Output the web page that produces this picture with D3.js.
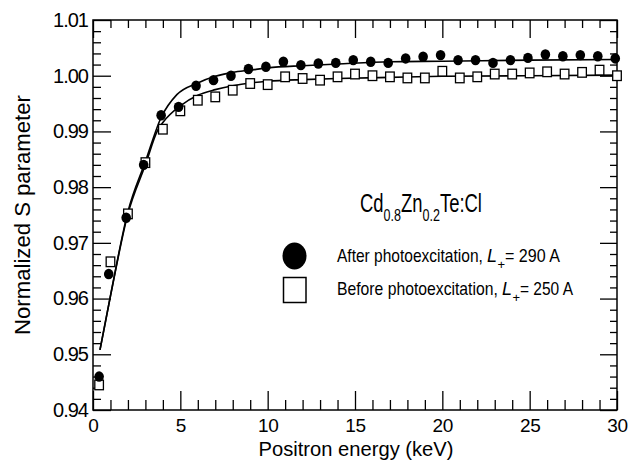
<!DOCTYPE html>
<html>
<head>
<meta charset="utf-8">
<script src="https://cdn.jsdelivr.net/npm/d3@7"></script>
<style>
  body { margin: 0; background: #fff; }
  text { font-family: "Liberation Sans", Arial, sans-serif; fill: #000; }
</style>
</head>
<body>
<svg id="chart" width="628" height="466"></svg>
<script>
// data
var energyAfter = [0.35, 0.9, 1.9, 2.9, 3.9, 4.9, 5.9, 6.9, 7.9, 8.9, 9.9, 10.9, 11.9, 12.9, 13.9, 14.9,
  15.9, 16.9, 17.9, 18.9, 19.9, 20.9, 21.9, 22.9, 23.9, 24.9, 25.9, 26.9, 27.9, 28.9, 29.9];
var sAfter = [0.9460, 0.9644, 0.9745, 0.9840, 0.9929, 0.9944, 0.9982, 0.9992, 1.0000, 1.0012, 1.0016,
  1.0025, 1.0019, 1.0022, 1.0023, 1.0028, 1.0025, 1.0023, 1.0031, 1.0034, 1.0037, 1.0028, 1.0028,
  1.0023, 1.0028, 1.0032, 1.0038, 1.0035, 1.0037, 1.0035, 1.0031];

var energyBefore = [0.35, 1, 2, 3, 4, 5, 6, 7, 8, 9, 10, 11, 12, 13, 14, 15, 16, 17, 18, 19, 20,
  21, 22, 23, 24, 25, 26, 27, 28, 29, 30];
var sBefore = [0.9445, 0.9666, 0.9752, 0.9844, 0.9904, 0.9937, 0.9956, 0.9962, 0.9974, 0.9986, 0.9984,
  0.9998, 0.9995, 0.9992, 0.9998, 1.0003, 1.0000, 0.9998, 0.9996, 0.9996, 1.0008, 0.9996, 0.9998,
  1.0003, 1.0003, 1.0005, 1.0007, 1.0003, 1.0006, 1.0010, 1.0000];

// fitted curves
var fitAfterE = [0.4, 1, 2, 3, 3.9, 4.8, 6, 7, 8, 9, 10, 12, 14, 17, 20, 25, 30];
var fitAfterS = [0.9508, 0.9605, 0.9756, 0.9846, 0.9925, 0.9966, 0.9987, 0.9999, 1.0006, 1.0010,
  1.0014, 1.0018, 1.0021, 1.0025, 1.0026, 1.0028, 1.0029];
var fitBeforeE = [0.4, 1, 2, 3, 3.7, 4, 5, 6, 7, 8, 9, 10, 12, 14, 17, 20, 25, 30];
var fitBeforeS = [0.9508, 0.9605, 0.9752, 0.9840, 0.9902, 0.9916, 0.9946, 0.9965, 0.9975, 0.9982,
  0.9987, 0.9990, 0.9993, 0.9995, 0.9997, 0.9999, 1.0000, 1.0001];

var xMajor = [0, 5, 10, 15, 20, 25, 30];
var yMajor = [0.94, 0.95, 0.96, 0.97, 0.98, 0.99, 1.00, 1.01];
var yLabels = ["0.94", "0.95", "0.96", "0.97", "0.98", "0.99", "1.00", "1.01"];

var legendNames = ["After photoexcitation,", "Before photoexcitation,"];
var legendValues = ["= 290 A", "= 250 A"];

var margin = {top: 20, right: 11, bottom: 56, left: 93};
var width = 628 - margin.left - margin.right;
var height = 466 - margin.top - margin.bottom;

var svg = d3.select("#chart");
var g = svg.append("g").attr("transform", "translate(" + margin.left + "," + margin.top + ")");

var x = d3.scaleLinear().domain([0, 30]).range([0, width]);
var y = d3.scaleLinear().domain([0.94, 1.01]).range([height, 0]);

var xMinor = d3.range(0, 31, 1).filter(function(d) { return d % 5 != 0; });
var yMinor = d3.range(0, 36).map(function(i) { return 0.94 + i * 0.002; })
  .filter(function(d, i) { return i % 5 != 0; });

function styleAxis(sel) {
  sel.select(".domain").remove();
  sel.selectAll("line").attr("stroke", "#000").attr("stroke-width", 1.3);
}

// the original typeface is narrow, so squeeze text horizontally to a target width
function squeeze(t, pre, target) {
  var w = t.node().getComputedTextLength();
  t.attr("transform", pre + " scale(" + (target / w) + ",1)");
  return t;
}

// bottom
g.append("g").attr("transform", "translate(0," + height + ")")
  .call(d3.axisBottom(x).tickValues(xMajor).tickSize(-19).tickPadding(9).tickFormat(d3.format("d")))
  .call(styleAxis)
  .selectAll("text").attr("font-size", 19).attr("letter-spacing", -0.3)
  .attr("font-family", "Liberation Sans, Arial, sans-serif");
g.append("g").attr("transform", "translate(0," + height + ")")
  .call(d3.axisBottom(x).tickValues(xMinor).tickSize(-10).tickFormat(""))
  .call(styleAxis);
// top
g.append("g")
  .call(d3.axisTop(x).tickValues(xMajor).tickSize(-18).tickFormat(""))
  .call(styleAxis);
g.append("g")
  .call(d3.axisTop(x).tickValues(xMinor).tickSize(-8).tickFormat(""))
  .call(styleAxis);
// left
g.append("g")
  .call(d3.axisLeft(y).tickValues(yMajor).tickSize(-18).tickPadding(5)
    .tickFormat(function(d, i) { return yLabels[i]; }))
  .call(styleAxis)
  .selectAll("text").attr("font-size", 20).attr("letter-spacing", -1)
  .attr("font-family", "Liberation Sans, Arial, sans-serif");
g.append("g")
  .call(d3.axisLeft(y).tickValues(yMinor).tickSize(-8).tickFormat(""))
  .call(styleAxis);
// right
g.append("g").attr("transform", "translate(" + width + ",0)")
  .call(d3.axisRight(y).tickValues(yMajor).tickSize(-17).tickFormat(""))
  .call(styleAxis);
g.append("g").attr("transform", "translate(" + width + ",0)")
  .call(d3.axisRight(y).tickValues(yMinor).tickSize(-7).tickFormat(""))
  .call(styleAxis);

// frame
g.append("rect").attr("width", width).attr("height", height)
  .attr("fill", "none").attr("stroke", "#000").attr("stroke-width", 1.5);

// fit lines
var line = d3.line().curve(d3.curveMonotoneX)
  .x(function(d) { return x(d[0]); })
  .y(function(d) { return y(d[1]); });

g.append("path").datum(d3.zip(fitAfterE, fitAfterS))
  .attr("d", line).attr("fill", "none").attr("stroke", "#000").attr("stroke-width", 1.6);
g.append("path").datum(d3.zip(fitBeforeE, fitBeforeS))
  .attr("d", line).attr("fill", "none").attr("stroke", "#000").attr("stroke-width", 1.6);

// points
g.selectAll(".sq").data(d3.zip(energyBefore, sBefore)).enter().append("rect")
  .attr("class", "sq")
  .attr("x", function(d) { return x(d[0]) - 4.3; })
  .attr("y", function(d) { return y(d[1]) - 4.8; })
  .attr("width", 8.6).attr("height", 9.6)
  .attr("fill", "#fff").attr("stroke", "#000").attr("stroke-width", 1.3);

g.selectAll(".dot").data(d3.zip(energyAfter, sAfter)).enter().append("ellipse")
  .attr("class", "dot")
  .attr("cx", function(d) { return x(d[0]); })
  .attr("cy", function(d) { return y(d[1]); })
  .attr("rx", 4.8).attr("ry", 5.2)
  .attr("fill", "#000");

// axis titles
squeeze(svg.append("text").attr("text-anchor", "middle").attr("font-size", 21)
  .text("Positron energy (keV)"), "translate(356,456)", 195);

squeeze(svg.append("text").attr("text-anchor", "middle").attr("font-size", 22)
  .text("Normalized S parameter"), "translate(30,215) rotate(-90)", 240);

// compound label
var comp = svg.append("text").attr("font-size", 25);
comp.append("tspan").text("Cd");
comp.append("tspan").attr("font-size", 17).attr("dy", 9).text("0.8");
comp.append("tspan").attr("dy", -9).text("Zn");
comp.append("tspan").attr("font-size", 17).attr("dy", 9).text("0.2");
comp.append("tspan").attr("dy", -9).text("Te:Cl");
squeeze(comp, "translate(360,212)", 122);

// legend
svg.append("ellipse").attr("cx", 294.5).attr("cy", 256).attr("rx", 12).attr("ry", 13.5).attr("fill", "#000");
svg.append("rect").attr("x", 283.5).attr("y", 277.5).attr("width", 22.5).attr("height", 25)
  .attr("fill", "#fff").attr("stroke", "#000").attr("stroke-width", 1.5);

var legendRows = [
  {y: 262, nameEnd: 483, lx: 487, px: 497.5, vx: 505, vEnd: 560},
  {y: 295, nameEnd: 498, lx: 502, px: 512.5, vx: 520, vEnd: 573}
];
legendRows.forEach(function(r, i) {
  squeeze(svg.append("text").attr("font-size", 18).text(legendNames[i]),
    "translate(337," + r.y + ")", r.nameEnd - 337);
  svg.append("text").attr("x", r.lx).attr("y", r.y).attr("font-size", 18)
    .attr("font-style", "italic").text("L");
  svg.append("text").attr("x", r.px).attr("y", r.y + 7).attr("font-size", 13).text("+");
  squeeze(svg.append("text").attr("font-size", 18).text(legendValues[i]),
    "translate(" + r.vx + "," + r.y + ")", r.vEnd - r.vx);
});
</script>
</body>
</html>
